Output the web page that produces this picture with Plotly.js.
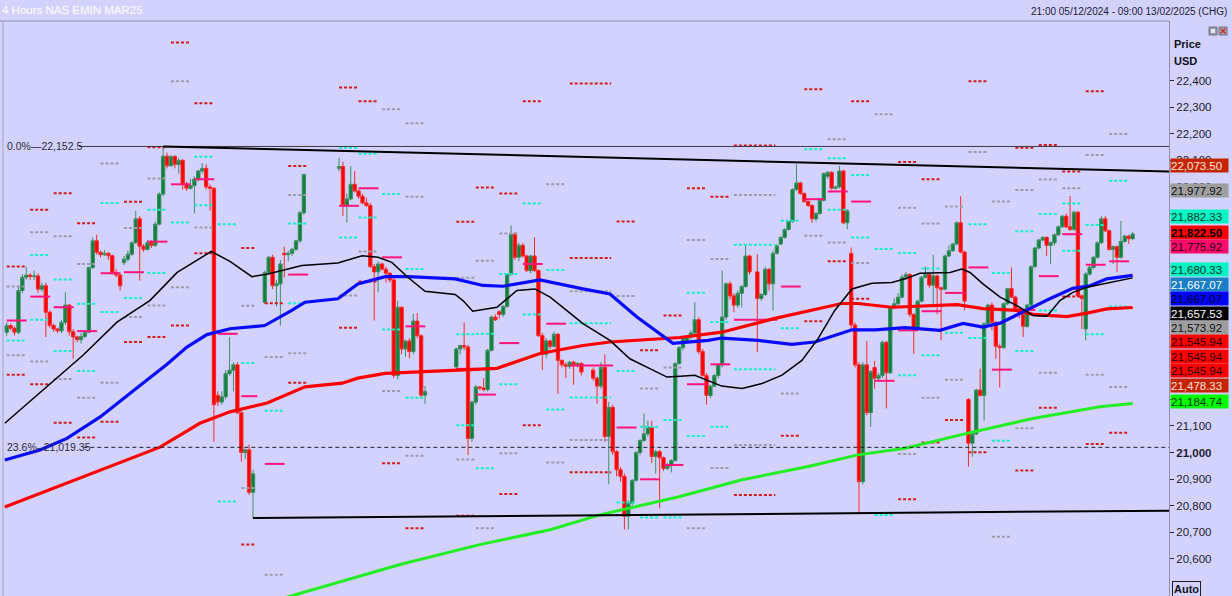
<!DOCTYPE html>
<html><head><meta charset="utf-8">
<script src="https://cdn.plot.ly/plotly-3.0.1.min.js"></script>
<style>html,body{margin:0;padding:0;background:#d2d2fc;overflow:hidden}#chart{width:1232px;height:596px}</style>
</head><body><div id="chart"></div>
<script>
// ---------- DATA ----------
const chartTitle = '4 Hours NAS EMIN MAR25';
const periodText = '21:00 05/12/2024 - 09:00 13/02/2025 (CHG)';
// trading sessions: [first bar index, number of bars]
const sessions = [[0,64],[66,11],[85,23],[115,33],[150,41],[192,97]];

const open = [
21453,21478,21468,21453,21610,21660,21668,21663,21665,21615,
21628,21528,21478,21465,21458,21490,21555,21455,21435,21425,
21437,21453,21697,21797,21754,21745,21750,21741,21678,21668,
21715,21728,21747,21790,21880,21777,21765,21790,21780,21860,
21973,22116,22080,22115,22085,22100,22010,21995,22005,22030,
22060,22070,22000,21995,21215,21190,21210,21297,21310,21330,
21150,21000,21010,20850,21566,21678,21735,21628,21635,21750,
21745,21750,21765,21797,21903,22070,22077,21930,21955,22010,
21985,21965,21940,21930,21700,21680,21710,21690,21675,21650,
21290,21547,21390,21420,21380,21495,21440,21216,21322,21390,
21403,21397,21053,21190,21247,21243,21237,21385,21510,21530,
21520,21550,21670,21822,21735,21780,21740,21685,21740,21685,
21440,21370,21420,21400,21445,21347,21330,21325,21340,21330,
21335,21310,21280,21250,21320,21060,21170,21003,20935,20910,
20760,20810,20895,21000,21045,21070,21095,20985,21003,20980,
20940,20950,20970,21335,21395,21420,21435,21450,21500,21380,
21290,21215,21250,21290,21330,21510,21635,21590,21555,21600,
21625,21740,21680,21580,21595,21690,21635,21750,21785,21810,
21840,21870,21990,22015,21975,21945,21930,21880,21900,21950,
22040,22055,21995,22000,22060,21865,21750,21480,21330,20890,
21330,21150,21320,21280,21290,21415,21300,21545,21560,21585,
21660,21670,21520,21465,21570,21660,21670,21630,21665,21620,
21615,21740,21760,21785,21865,21755,21200,21035,21070,21235,
21215,21485,21555,21490,21400,21395,21560,21617,21585,21540,
21520,21475,21555,21700,21770,21800,21810,21780,21790,21820,
21850,21890,21850,21840,21905,21590,21465,21672,21697,21735,
21790,21880,21835,21765,21775,21735,21795,21815,21805];

const high = [
21490,21485,21475,21625,21672,21700,21675,21685,21675,21640,
21640,21535,21485,21470,21500,21603,21560,21465,21440,21450,
21460,21700,21810,21820,21760,21762,21755,21745,21690,21672,
21740,21760,21795,21910,21890,21785,21800,21800,21870,21980,
22152,22130,22120,22120,22110,22105,22020,22030,22040,22065,
22090,22085,22010,22000,21230,21230,21310,21435,21340,21340,
21160,21015,21030,20935,21685,21740,21745,21650,21725,21775,
21760,21770,21800,21910,22050,22110,22095,21975,22079,22060,
21990,21975,21960,21940,21710,21720,21715,21700,21680,21660,
21572,21550,21425,21430,21522,21525,21445,21250,21395,21405,
21490,21405,21195,21255,21250,21280,21390,21515,21520,21535,
21555,21675,21855,21830,21790,21790,21745,21745,21810,21690,
21450,21430,21425,21455,21450,21350,21340,21345,21345,21340,
21340,21320,21285,21340,21370,21190,21180,21010,20945,20920,
20820,20900,21005,21050,21147,21120,21120,21010,21010,20985,
20960,20975,21340,21400,21440,21440,21460,21566,21510,21390,
21300,21255,21295,21335,21685,21640,21645,21600,21610,21630,
21780,21745,21747,21600,21700,21695,21760,21785,21815,21845,
21875,21995,22085,22020,21980,21950,21935,21905,21955,22055,
22060,22060,22005,22079,22065,21915,21772,21490,21340,21340,
21420,21310,21345,21300,21422,21420,21550,21580,21600,21670,
21680,21675,21525,21575,21665,21700,21675,21745,21670,21625,
21745,21780,21790,21870,21965,21760,21205,21080,21240,21316,
21490,21560,21565,21495,21410,21565,21620,21697,21590,21545,
21530,21560,21705,21775,21805,21815,21815,21795,21825,21855,
21895,21900,21966,21910,21910,21595,21680,21705,21740,21795,
21890,21890,21840,21780,21780,21872,21820,21820,21830];

const low = [
21440,21460,21440,21445,21600,21650,21650,21650,21600,21605,
21435,21470,21455,21450,21450,21480,21440,21353,21415,21410,
21430,21450,21690,21745,21735,21740,21725,21670,21660,21610,
21705,21720,21740,21785,21647,21755,21760,21770,21775,21855,
21965,22070,22075,22070,22050,21990,21985,21990,21900,22020,
22050,21990,21910,21040,21175,21180,21200,21290,21230,21145,
20966,20975,20840,20753,21560,21670,21615,21550,21478,21660,
21720,21740,21760,21790,21895,22060,21890,21866,21950,21980,
21955,21935,21925,21695,21497,21603,21685,21640,21640,21280,
21275,21370,21360,21355,21370,21430,21205,21184,21315,21370,
21385,20990,21040,21180,21235,21230,21230,21380,21495,21505,
21510,21545,21665,21725,21720,21735,21680,21675,21680,21435,
21310,21355,21390,21395,21222,21320,21280,21315,21255,21320,
21290,21270,21184,21240,21040,20880,20990,20910,20890,20710,
20710,20800,20890,20990,21040,21060,20960,20920,20790,20930,
20935,20925,20965,21330,21385,21410,21425,21445,21370,21285,
21180,21205,21245,21280,21320,21500,21575,21528,21545,21547,
21620,21670,21378,21570,21590,21610,21535,21745,21780,21805,
21835,21865,21985,21970,21940,21925,21865,21870,21895,21945,
22030,21990,21990,21995,21860,21841,21460,21320,20770,20880,
21140,21097,21240,21270,21280,21166,21295,21540,21555,21580,
21650,21510,21372,21460,21565,21655,21620,21550,21520,21422,
21610,21735,21755,21780,21750,21535,20947,20984,21065,21210,
21120,21480,21460,21353,21245,21390,21555,21580,21530,21505,
21435,21470,21550,21695,21765,21795,21740,21710,21780,21815,
21845,21845,21835,21835,21585,21465,21422,21665,21690,21730,
21785,21830,21760,21710,21679,21730,21790,21785,21800];

const close = [
21478,21468,21453,21610,21660,21668,21663,21665,21615,21628,
21528,21478,21465,21458,21490,21555,21455,21435,21425,21437,
21453,21697,21797,21754,21745,21750,21741,21678,21668,21628,
21728,21747,21790,21880,21777,21765,21790,21780,21860,21973,
22116,22080,22115,22085,22100,22010,21995,22005,22030,22060,
22070,22000,21995,21180,21190,21210,21297,21310,21330,21150,
21000,21010,20850,20920,21678,21735,21628,21635,21710,21745,
21750,21765,21797,21903,22047,22077,21930,21955,22010,21985,
21965,21940,21930,21700,21680,21710,21690,21675,21650,21290,
21547,21390,21420,21380,21495,21440,21216,21230,21390,21403,
21397,21053,21190,21247,21243,21237,21385,21510,21500,21520,
21550,21670,21822,21735,21780,21740,21685,21740,21685,21440,
21370,21420,21400,21445,21347,21330,21325,21340,21330,21335,
21303,21280,21250,21320,21060,21170,21003,20935,20910,20760,
20810,20895,21000,21045,21070,21095,20985,21003,20980,20940,
20950,20970,21335,21395,21430,21435,21450,21500,21380,21290,
21215,21250,21290,21330,21510,21635,21590,21555,21600,21625,
21740,21680,21580,21595,21690,21635,21750,21778,21810,21840,
21870,21990,22015,21975,21945,21930,21880,21900,21950,22050,
22055,21995,22000,22060,21865,21910,21480,21330,20890,21330,
21150,21305,21280,21290,21415,21300,21545,21560,21585,21660,
21670,21520,21465,21570,21660,21670,21630,21665,21620,21615,
21740,21760,21785,21865,21755,21570,21035,21070,21235,21215,
21485,21555,21490,21400,21395,21560,21617,21585,21540,21520,
21475,21555,21700,21770,21800,21810,21780,21790,21820,21850,
21890,21850,21840,21905,21590,21580,21672,21697,21735,21790,
21880,21835,21765,21775,21735,21795,21815,21805,21822.5];

// moving averages (bar index, price)
const maBlackX = [-0.5,11.1,19.5,28.2,36.6,43.6,49.4,52.3,57.1,62.7,66.8,75.5,84.7,90.9,95,98.5,102.6,107,114.7,116.7,119.2,125.4,130.5,135.1,139,147.4,154.3,159.4,164.5,168.9,172.2,176,182.9,188.1,193.2,198.3,203.4,207.5,211.8,216.2,221.3,226.4,229.8,233.6,241.3,244.3,246.4,249.7,254.1,258.4,262.5,266.1,269.4,272.7,276.3,281.4,288];
const maBlackY = [21110,21260,21366,21491,21572,21678,21729,21757,21720,21662,21672,21704,21714,21741,21735,21716,21660,21607,21595,21572,21532,21547,21610,21616,21585,21485,21422,21353,21316,21284,21287,21291,21250,21241,21260,21291,21347,21428,21535,21616,21637,21640,21654,21675,21678,21691,21678,21635,21585,21553,21516,21513,21572,21603,21622,21637,21657.53];
const maBlueX = [-0.5,8.5,15.4,23.9,32.3,41,46.1,51.2,57.1,66,72.9,76.3,84.7,89.8,96.8,102.6,114.7,121.8,126.9,136.4,147.4,154.3,161.2,170.4,179.4,182.9,192.2,200.8,206.7,216.2,222.1,229.8,238.7,244.6,249.7,254.1,261,266.8,272.7,277.1,281.4,288];
const maBlueY = [20972,21009,21053,21134,21232,21332,21397,21444,21466,21478,21535,21566,21579,21635,21662,21662,21654,21629,21626,21650,21616,21597,21510,21411,21422,21431,21422,21407,21416,21462,21462,21470,21460,21486,21472,21487,21537,21579,21618,21628,21654,21667.07];
const maRedX = [-0.5,11.1,23.9,39.2,49.4,52.8,57.1,66.6,76.3,85.8,89.8,96.8,114.6,125.4,136.4,147.4,154.3,160.2,172.2,182.9,196.5,213.6,217.7,226.4,243.1,249.7,258.4,262.5,271.2,276.3,281.4,288];
const maRedY = [20795,20860,20934,21020,21110,21129,21153,21186,21247,21261,21280,21298,21310,21317,21373,21403,21416,21422,21433,21453,21505,21561,21561,21547,21557,21542,21535,21520,21512,21525,21541,21545.94];
const maGreenX = [70,100.6,121,139,151.7,172.2,188.1,205,217.7,229.8,245.6,262.5,279.6,288];
const maGreenY = [20448,20578,20653,20709,20765,20834,20897,20947,20991,21016,21072,21128,21172,21184.74];

// Fibonacci levels and trend lines
const fibLabels = ['0.0%\u201422,152.5', '23.6%--21,019.35'];
const fibLevels = [22152.5, 21019.35];
const fibStartX = [18.5, 19.6];
const resistX = [40, 297.3], resistY = [22152.5, 22058];
const supportX = [63, 297.3], supportY = [20753, 20781];

// daily level markers: trading-day first bar and bars covered
const dayStart = [0,6,12,18,24,30,36,42,48,54,60,66,72,85,90,96,102,115,120,126,132,138,144,156,162,168,174,180,186,198,204,210,216,222,228,234,240,246,252,258,264,270,276,282];
const daySpan  = [5,5,5,5,5,5,5,5,5,5,4,5,5,5,5,5,5,5,5,5,5,5,11,5,5,5,5,5,11,5,5,5,5,5,5,5,5,5,5,5,5,5,5,5];
const pinkPrice = [21497,21587,21547,21457,21675,21679,21794,22010,22029,21447,21212,20957,21670,21929,21995,21735,21475,21315,21218,21412,21710,21485,21328,21094,20899,20953,21257,21332,21500,21625,21954,21983,21945,21270,21460,21532,21601,21697,21312,21537,21664,21822,21707,21720];
const redDay = [0,0,6,6,12,12,18,18,24,30,30,36,36,42,48,60,66,72,72,85,90,96,102,115,115,120,126,126,132,144,144,156,162,168,174,180,186,186,198,204,210,216,228,228,234,234,240,246,258,258,264,264,270,270,276,282,
  42,48,85,90,132,144,204,216,246,276,60];
const redPrice = [21700,21293,21914,21257,21976,21112,21863,21056,21116,21944,21416,22150,21435,21478,21750,21770,21562,22079,21263,21470,21644,20959,20715,21869,20762,21998,21975,20844,21103,21732,20926,21870,21385,21516,21995,21963,22156,20840,21063,21494,21720,21579,22094,20824,22029,21038,21122,21001,22148,20932,22158,21168,22058,21587,21032,21074,
  22544,22315,22375,22323,22323,22390,22368,22323,22398,22360,20653];
const grayDay = [0,0,6,6,12,12,18,18,24,24,30,30,36,36,42,48,60,60,66,72,72,85,90,96,102,102,115,115,120,120,126,126,138,138,144,144,156,162,168,174,174,180,180,186,186,198,204,210,216,228,228,234,234,240,240,246,252,258,258,264,264,270,276,276,282,
  42,96,102,210,222,282,66,252];
const grayPrice = [21625,21366,21829,21343,21814,21277,21710,21206,22088,21263,21845,21510,22032,21554,21622,21847,21553,20866,21360,21970,21374,21591,21757,21232,21963,20988,21658,20974,21722,20715,21825,20997,22010,20962,21607,21047,21589,21241,21320,21800,20715,21729,20942,21970,21028,21222,21816,21791,21714,21922,20994,21862,21206,21926,21274,22132,21945,21989,21091,22028,21300,21995,22120,21293,21247,
  22398,22293,22240,22180,22274,22199,20540,20683];
const cyanDay = [0,6,6,12,12,18,18,24,24,30,36,36,42,48,48,54,54,60,66,72,72,85,85,90,90,96,96,102,102,115,115,120,120,126,126,132,132,138,138,144,144,156,156,162,162,168,168,174,174,180,180,186,186,198,198,204,210,210,216,216,222,222,228,228,234,234,240,246,246,252,252,258,258,264,264,270,270,276,276,282,282];
const cyanPrice = [21422,21744,21500,21651,21382,21560,21307,21940,21529,21582,21914,21676,21866,22114,21931,21860,20815,21337,21157,21862,21562,22148,21810,22125,21885,21973,21463,21691,21206,21445,21103,21447,20941,21672,21257,21938,21520,21687,21162,21487,21207,21307,20812,21097,20755,21122,20755,21602,21062,21491,21097,21782,21313,21873,21468,22142,22108,21914,22045,21810,21766,20765,21751,21291,21693,21366,21451,21860,21431,21676,21044,21833,21382,21898,21535,21938,21760,21857,21445,22023,21550];

// right-hand price labels
const labelValues = [22073.50,21977.92,21882.33,21822.50,21775.92,21680.33,21667.07,21667.07,21657.53,21573.92,21545.94,21545.94,21545.94,21478.33,21184.74];
const labelBg = ['#c42400','#9e9e9e','#00f7c4','#ff0000','#ff0a6a','#00f7c4','#1a7ec6','#0000ff','#000000','#9e9e9e','#ff0000','#ff0000','#ff0000','#c42400','#00ff00'];
const labelFg = ['#ffe8e0','#101010','#0a3020','#000000','#200010','#0a3020','#ffffff','#000010','#ffffff','#101010','#200000','#200000','#200000','#ffe0e0','#003000'];

// axis ticks; labels hidden behind the price boxes are left blank
const tickVals = [20600,20700,20800,20900,21000,21100,21200,21300,21400,21500,21600,21700,21800,21900,22000,22100,22200,22300,22400];
const hiddenTicks = [21200,21300,21400,21500,21600,21800];

// ---------- BUILD ----------
const W = 1232, H = 596, mL = 4, mR = 63, mT = 21, mB = 0;
const pw = W - mL - mR, ph = H - mT - mB;
const yMin = 20459.5, yMax = 22625;
const xMin = -0.7, xMax = 297.3;
const font = 'Liberation Sans, Arial, sans-serif';

const barX = [];
sessions.forEach(([s, n]) => { for (let i = 0; i < n; i++) barX.push(s + i); });

function spanOf(d) { const k = dayStart.indexOf(d); return k >= 0 ? daySpan[k] : 5; }
function segs(days, prices, endAdj) {
  const x = [], y = [];
  days.forEach((d, i) => { x.push(d, d + spanOf(d) + endAdj, null); y.push(prices[i], prices[i], null); });
  return {x, y};
}
const grayS = segs(grayDay, grayPrice, -0.4);
const redS = segs(redDay, redPrice, -0.4);
const cyanS = segs(cyanDay, cyanPrice, -0.4);
const pinkS = segs(dayStart, pinkPrice, 0.1);

const dash = '3px,2px';
const traces = [
  {type:'scatter', mode:'lines', x:grayS.x, y:grayS.y, line:{color:'#9c9cac', width:2, dash}, hoverinfo:'skip', connectgaps:false},
  {type:'scatter', mode:'lines', x:redS.x, y:redS.y, line:{color:'#d21c1c', width:2, dash}, hoverinfo:'skip', connectgaps:false},
  {type:'scatter', mode:'lines', x:cyanS.x, y:cyanS.y, line:{color:'#12f2c6', width:2, dash}, hoverinfo:'skip', connectgaps:false},
  {type:'scatter', mode:'lines', x:pinkS.x, y:pinkS.y, line:{color:'#ff1478', width:2}, hoverinfo:'skip', connectgaps:false},
  {type:'candlestick', x:barX, open, high, low, close,
   increasing:{line:{color:'#3d8f62', width:1}, fillcolor:'#10803c'},
   decreasing:{line:{color:'#f52a2a', width:1}, fillcolor:'#ff0000'},
   whiskerwidth:0, hoverinfo:'skip'},
  {type:'scatter', mode:'lines', x:maGreenX, y:maGreenY, line:{color:'#22ee22', width:3}, hoverinfo:'skip'},
  {type:'scatter', mode:'lines', x:maRedX, y:maRedY, line:{color:'#ff0000', width:3.2}, hoverinfo:'skip'},
  {type:'scatter', mode:'lines', x:maBlueX, y:maBlueY, line:{color:'#0a0aff', width:3.2}, hoverinfo:'skip'},
  {type:'scatter', mode:'lines', x:maBlackX, y:maBlackY, line:{color:'#000000', width:1.5}, hoverinfo:'skip'},
  {type:'scatter', mode:'lines', x:[fibStartX[0], xMax], y:[fibLevels[0], fibLevels[0]], line:{color:'#3a3a48', width:1}, hoverinfo:'skip'},
  {type:'scatter', mode:'lines', x:[fibStartX[1], xMax], y:[fibLevels[1], fibLevels[1]], line:{color:'#202028', width:1, dash:'4px,3px'}, hoverinfo:'skip'},
  {type:'scatter', mode:'lines', x:resistX, y:resistY, line:{color:'#000000', width:2}, hoverinfo:'skip'},
  {type:'scatter', mode:'lines', x:supportX, y:supportY, line:{color:'#000000', width:2}, hoverinfo:'skip'}
];

function pix(v) { return mT + (yMax - v) / (yMax - yMin) * ph; }
function py(p) { return (H - mB - p) / ph; }
function px(p) { return (p - mL) / pw; }

const annotations = [];
fibLevels.forEach((lv, i) => annotations.push({xref:'paper', yref:'y', x:px(5), y:lv, xanchor:'left', yanchor:'middle',
  text:fibLabels[i], showarrow:false, font:{family:font, size:10.5, color:'#2c2c3a'}}));
let prev = -1e9;
labelValues.forEach((v, i) => {
  let yp = pix(v) - 2; if (yp < prev + 14.4) yp = prev + 14.4; prev = yp;
  const txt = v.toLocaleString('en-US', {minimumFractionDigits:2, maximumFractionDigits:2});
  annotations.push({xref:'paper', yref:'paper', x:px(1170), y:py(yp), xanchor:'left', yanchor:'middle',
    text: i === 3 ? '<b>' + txt + '</b>' : txt, showarrow:false, bgcolor:labelBg[i], width:57, height:13, align:'left', borderpad:0,
    font:{family:font, size:11.5, color:labelFg[i]}});
});
annotations.push({xref:'paper', yref:'paper', x:px(1229), y:py(11), xanchor:'right', yanchor:'middle', text:periodText, showarrow:false,
  font:{family:font, size:10, color:'#202038'}});
annotations.push({xref:'paper', yref:'paper', x:px(1172), y:py(44), xanchor:'left', yanchor:'middle', text:'<b>Price</b>', showarrow:false,
  font:{family:font, size:11, color:'#101018'}});
annotations.push({xref:'paper', yref:'paper', x:px(1172), y:py(61), xanchor:'left', yanchor:'middle', text:'<b>USD</b>', showarrow:false,
  font:{family:font, size:11, color:'#101018'}});
annotations.push({xref:'paper', yref:'paper', x:px(1172), y:py(589), xanchor:'left', yanchor:'middle', text:'<b>Auto</b>', showarrow:false,
  bordercolor:'#202020', borderwidth:1, borderpad:1, font:{family:font, size:11, color:'#101018'}});

const shapes = [
  {type:'line', xref:'paper', yref:'paper', x0:px(0), x1:px(1169), y0:1, y1:1, line:{color:'#8e8ea6', width:1}},
  {type:'line', xref:'paper', yref:'paper', x0:px(3), x1:px(3), y0:0, y1:1, line:{color:'#a4a4bc', width:1}},
  {type:'rect', xref:'paper', yref:'paper', x0:px(1209), x1:px(1217), y0:py(35), y1:py(27), fillcolor:'#9c9cac', line:{color:'#707080', width:1}},
  {type:'rect', xref:'paper', yref:'paper', x0:px(1211), x1:px(1215), y0:py(33), y1:py(29), fillcolor:'#e8e8f0', line:{width:0}},
  {type:'rect', xref:'paper', yref:'paper', x0:px(1219), x1:px(1227), y0:py(35), y1:py(27), fillcolor:'#a8a8b8', line:{color:'#707080', width:1}},
  {type:'line', xref:'paper', yref:'paper', x0:px(1220.5), x1:px(1225.5), y0:py(33.5), y1:py(28.5), line:{color:'#c03030', width:1.5}},
  {type:'line', xref:'paper', yref:'paper', x0:px(1220.5), x1:px(1225.5), y0:py(28.5), y1:py(33.5), line:{color:'#c03030', width:1.5}}
];

const tickText = tickVals.map(v => hiddenTicks.includes(v) ? '' : (v === 21000 ? '<b>21,000</b>' : v.toLocaleString('en-US')));

const lens = [open.length, high.length, low.length, close.length, barX.length];
if (new Set(lens).size > 1) annotations.push({xref:'paper', yref:'paper', x:0.5, y:0.5, text:'LEN ' + lens.join(','), showarrow:false, font:{size:20}});

const layout = {
  width:W, height:H,
  margin:{l:mL, r:mR, t:mT, b:mB, pad:0},
  paper_bgcolor:'#d2d2fc', plot_bgcolor:'#d2d2fc',
  showlegend:false, hovermode:false, boxgap:0.15, boxgroupgap:0,
  title:{text:chartTitle, x:2/W, xanchor:'left', xref:'container', y:1 - 10/H, yanchor:'middle', yref:'container',
    font:{family:font, size:11.5, color:'#ffffff'}},
  xaxis:{type:'linear', range:[xMin, xMax], showticklabels:false, showgrid:false, zeroline:false, showline:false, ticks:'',
    rangeslider:{visible:false}, fixedrange:true},
  yaxis:{side:'right', range:[yMin, yMax], tickvals:tickVals, ticktext:tickText, ticks:'outside', ticklen:4, tickwidth:1,
    tickcolor:'#2a2a3a', showline:true, linecolor:'#8e8ea6', linewidth:1, showgrid:false, zeroline:false, fixedrange:true,
    tickfont:{family:font, size:11.5, color:'#1c1c2c'}},
  annotations, shapes
};

Plotly.newPlot('chart', traces, layout, {displayModeBar:false, staticPlot:true});
</script></body></html>
